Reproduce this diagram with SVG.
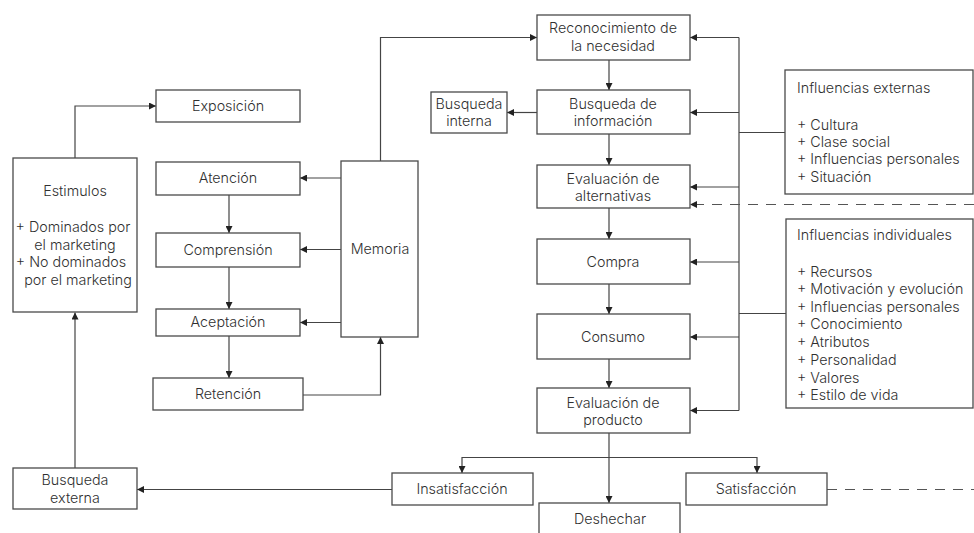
<svg xmlns="http://www.w3.org/2000/svg" width="974" height="533" viewBox="0 0 974 533">
  <style>
    .box { fill: #ffffff; stroke: #4a4a4a; stroke-width: 1.3; }
    .t { font-family: "Inter", "Liberation Sans", sans-serif; font-size: 14.3px; font-weight: 300; fill: #303030; }
    .c { text-anchor: middle; }
    .ln { fill: none; stroke: #444444; stroke-width: 1.2; }
    .dash { fill: none; stroke: #555555; stroke-width: 1.2; stroke-dasharray: 10 8; }
  </style>
  <defs>
    <marker id="arrow" viewBox="0 0 10 10" refX="10" refY="5" markerWidth="7" markerHeight="7" markerUnits="userSpaceOnUse" orient="auto">
      <path d="M0,0 L10,5 L0,10 z" fill="#222222"/>
    </marker>
  </defs>
  <rect width="974" height="533" fill="#ffffff"/>

  <!-- connectors -->
  <g id="connectors">
    <path class="ln" d="M75,158 V106 H156" marker-end="url(#arrow)"/>
    <path class="ln" d="M75,468 V312.5" marker-end="url(#arrow)"/>
    <path class="ln" d="M229,195 V233" marker-end="url(#arrow)"/>
    <path class="ln" d="M229,267 V309" marker-end="url(#arrow)"/>
    <path class="ln" d="M229,336 V378" marker-end="url(#arrow)"/>
    <path class="ln" d="M341,178 H300" marker-end="url(#arrow)"/>
    <path class="ln" d="M341,249.5 H300" marker-end="url(#arrow)"/>
    <path class="ln" d="M341,322.5 H300" marker-end="url(#arrow)"/>
    <path class="ln" d="M303,395 H380.5 V337" marker-end="url(#arrow)"/>
    <path class="ln" d="M380.5,161 V37.5 H537" marker-end="url(#arrow)"/>
    <path class="ln" d="M609,60 V90" marker-end="url(#arrow)"/>
    <path class="ln" d="M609,134 V165" marker-end="url(#arrow)"/>
    <path class="ln" d="M609,208 V239" marker-end="url(#arrow)"/>
    <path class="ln" d="M609,284 V314" marker-end="url(#arrow)"/>
    <path class="ln" d="M609,359 V388" marker-end="url(#arrow)"/>
    <path class="ln" d="M537,112.5 H507" marker-end="url(#arrow)"/>
    <path class="ln" d="M739,37.5 V410.5"/>
    <path class="ln" d="M739,37.5 H690" marker-end="url(#arrow)"/>
    <path class="ln" d="M739,112.5 H690" marker-end="url(#arrow)"/>
    <path class="ln" d="M739,187 H690" marker-end="url(#arrow)"/>
    <path class="ln" d="M739,262 H690" marker-end="url(#arrow)"/>
    <path class="ln" d="M739,337 H690" marker-end="url(#arrow)"/>
    <path class="ln" d="M739,410.5 H690" marker-end="url(#arrow)"/>
    <path class="ln" d="M739,132.5 H785"/>
    <path class="ln" d="M739,313.5 H786"/>
    <path class="dash" d="M974,204.5 H690" marker-end="url(#arrow)"/>
    <path class="dash" d="M827,489.5 H974"/>
    <path class="ln" d="M609,433 V503" marker-end="url(#arrow)"/>
    <path class="ln" d="M609,457.5 H462 V473" marker-end="url(#arrow)"/>
    <path class="ln" d="M609,457.5 H757 V473" marker-end="url(#arrow)"/>
    <path class="ln" d="M392,489.5 H137" marker-end="url(#arrow)"/>
  </g>

  <!-- left column -->
  <g id="exposicion">
    <rect class="box" x="156" y="90" width="144" height="32"/>
    <text class="t c" x="228" y="111">Exposición</text>
  </g>
  <g id="estimulos">
    <rect class="box" x="13" y="158" width="124" height="154"/>
    <text class="t c" x="75" y="196">Estimulos</text>
    <text class="t c" x="73" y="232">+ Dominados por</text>
    <text class="t c" x="75" y="250">el marketing</text>
    <text class="t c" x="71" y="267">+ No dominados</text>
    <text class="t c" x="78" y="285">por el marketing</text>
  </g>
  <g id="atencion">
    <rect class="box" x="156" y="162" width="144" height="33"/>
    <text class="t c" x="228" y="183">Atención</text>
  </g>
  <g id="comprension">
    <rect class="box" x="156" y="233" width="144" height="34"/>
    <text class="t c" x="228" y="255">Comprensión</text>
  </g>
  <g id="aceptacion">
    <rect class="box" x="156" y="309" width="144" height="27"/>
    <text class="t c" x="228" y="327">Aceptación</text>
  </g>
  <g id="retencion">
    <rect class="box" x="153" y="378" width="150" height="32"/>
    <text class="t c" x="228" y="399">Retención</text>
  </g>
  <g id="memoria">
    <rect class="box" x="341" y="161" width="77" height="176"/>
    <text class="t c" x="380" y="254">Memoria</text>
  </g>
  <g id="busqueda-externa">
    <rect class="box" x="13" y="468" width="124" height="41"/>
    <text class="t c" x="75" y="485">Busqueda</text>
    <text class="t c" x="75" y="503">externa</text>
  </g>

  <!-- decision process -->
  <g id="reconocimiento">
    <rect class="box" x="537" y="15" width="153" height="45"/>
    <text class="t c" x="613" y="33">Reconocimiento de</text>
    <text class="t c" x="613" y="51">la necesidad</text>
  </g>
  <g id="busqueda-informacion">
    <rect class="box" x="537" y="90" width="153" height="44"/>
    <text class="t c" x="613" y="109">Busqueda de</text>
    <text class="t c" x="613" y="126">información</text>
  </g>
  <g id="busqueda-interna">
    <rect class="box" x="431" y="92" width="76" height="41"/>
    <text class="t c" x="469" y="109">Busqueda</text>
    <text class="t c" x="469" y="126">interna</text>
  </g>
  <g id="evaluacion-alternativas">
    <rect class="box" x="537" y="165" width="153" height="43"/>
    <text class="t c" x="613" y="184">Evaluación de</text>
    <text class="t c" x="613" y="201">alternativas</text>
  </g>
  <g id="compra">
    <rect class="box" x="537" y="239" width="153" height="45"/>
    <text class="t c" x="613" y="267">Compra</text>
  </g>
  <g id="consumo">
    <rect class="box" x="537" y="314" width="153" height="45"/>
    <text class="t c" x="613" y="342">Consumo</text>
  </g>
  <g id="evaluacion-producto">
    <rect class="box" x="537" y="388" width="153" height="45"/>
    <text class="t c" x="613" y="408">Evaluación de</text>
    <text class="t c" x="613" y="425">producto</text>
  </g>
  <g id="insatisfaccion">
    <rect class="box" x="392" y="473" width="141" height="32"/>
    <text class="t c" x="462" y="494">Insatisfacción</text>
  </g>
  <g id="satisfaccion">
    <rect class="box" x="686" y="473" width="141" height="32"/>
    <text class="t c" x="756" y="494">Satisfacción</text>
  </g>
  <g id="deshechar">
    <rect class="box" x="539" y="503" width="141" height="40"/>
    <text class="t c" x="610" y="524">Deshechar</text>
  </g>

  <!-- influences -->
  <g id="influencias-externas">
    <rect class="box" x="785" y="70" width="188" height="124"/>
    <text class="t" x="797" y="93">Influencias externas</text>
    <text class="t" x="797" y="130">+ Cultura</text>
    <text class="t" x="797" y="147">+ Clase social</text>
    <text class="t" x="797" y="164">+ Influencias personales</text>
    <text class="t" x="797" y="182">+ Situación</text>
  </g>
  <g id="influencias-individuales">
    <rect class="box" x="786" y="219" width="187" height="189"/>
    <text class="t" x="797" y="240">Influencias individuales</text>
    <text class="t" x="797" y="277">+ Recursos</text>
    <text class="t" x="797" y="294">+ Motivación y evolución</text>
    <text class="t" x="797" y="312">+ Influencias personales</text>
    <text class="t" x="797" y="329">+ Conocimiento</text>
    <text class="t" x="797" y="347">+ Atributos</text>
    <text class="t" x="797" y="365">+ Personalidad</text>
    <text class="t" x="797" y="383">+ Valores</text>
    <text class="t" x="797" y="400">+ Estilo de vida</text>
  </g>
</svg>
